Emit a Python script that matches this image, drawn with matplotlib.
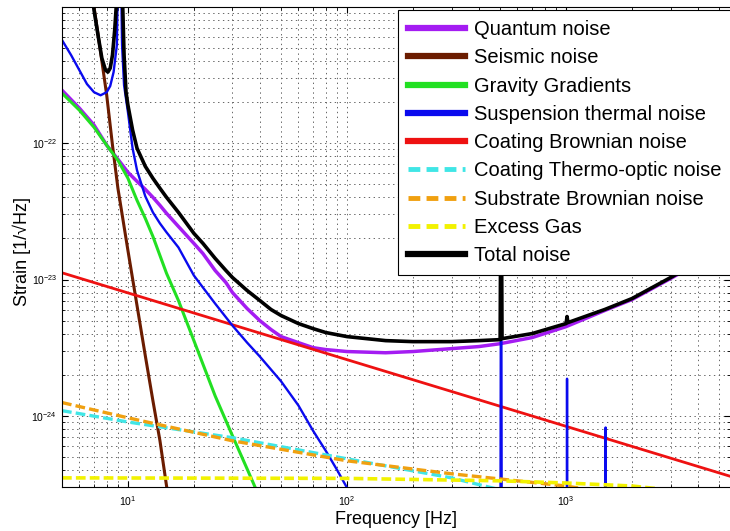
import matplotlib.pyplot as plt
from matplotlib.lines import Line2D

plt.rcParams['font.family'] = ['Liberation Sans', 'DejaVu Sans']
plt.rcParams['mathtext.fontset'] = 'custom'
plt.rcParams['mathtext.rm'] = 'Liberation Sans'
plt.rcParams['lines.scale_dashes'] = False

# quantum noise
q_f = [5, 6, 7, 8, 9, 10, 11, 12, 13, 14, 15, 17, 20, 22, 25, 28, 30, 35, 40, 45, 50, 60, 70, 80,
       100, 150, 200, 300, 400, 500, 700, 1000, 1500, 2000, 3000, 5600]
q_h = [2.45e-22, 1.81e-22, 1.36e-22, 9.67e-23, 7.63e-23, 6.12e-23, 5.25e-23, 4.59e-23, 4.01e-23,
       3.50e-23, 3.06e-23, 2.45e-23, 1.84e-23, 1.55e-23, 1.165e-23, 9.5e-24, 8.02e-24, 6.12e-24,
       4.99e-24, 4.29e-24, 3.81e-24, 3.44e-24, 3.16e-24, 3.06e-24, 2.96e-24, 2.90e-24, 2.96e-24,
       3.11e-24, 3.22e-24, 3.38e-24, 3.75e-24, 4.51e-24, 5.92e-24, 7.13e-24, 1.017e-23, 1.81e-23]

# seismic noise
s_f = [6, 7, 7.5, 8, 8.5, 9, 9.5, 10, 11, 12, 13, 14, 15, 16]
s_h = [5e-21, 1.0e-21, 4.67e-22, 2.25e-22, 9.67e-23, 4.67e-23, 2.72e-23, 1.63e-23, 6.44e-24,
       2.76e-24, 1.29e-24, 6.55e-25, 3.06e-25, 1.7e-25]

# gravity gradients
g_f = [5, 6, 7, 8, 9, 10, 11, 12, 13, 15, 17, 20, 25, 30, 35, 40]
g_h = [2.33e-22, 1.75e-22, 1.31e-22, 9.67e-23, 7.5e-23, 5.53e-23, 3.81e-23, 2.81e-23, 2.07e-23,
       1.11e-23, 7.01e-24, 3.56e-24, 1.40e-24, 7.13e-25, 4.07e-25, 2.49e-25]

# suspension thermal noise (with violin modes)
sus_f = [5, 5.5, 6, 6.5, 7, 7.5, 8, 8.3, 8.6, 8.9, 9.15, 9.4, 9.6, 10, 10.5, 11, 12, 13, 14, 15, 17,
         20, 22, 25, 30, 35, 40, 50, 60, 70, 80, 90, 100, 110,
         500, 505, 510, 1005, 1010, 1015, 1510, 1515, 1520, 3000]
sus_h = [5.72e-22, 4.44e-22, 3.44e-22, 2.72e-22, 2.37e-22, 2.25e-22, 2.37e-22, 2.63e-22, 3.33e-22,
         5.26e-22, 1e-20, 5.26e-22, 2.67e-22, 1.69e-22, 9.19e-23, 6.33e-23, 4.08e-23, 3.11e-23,
         2.58e-23, 2.22e-23, 1.72e-23, 1.07e-23, 8.73e-24, 6.66e-24, 4.59e-24, 3.44e-24, 2.72e-24,
         1.79e-24, 1.19e-24, 7.76e-25, 5.53e-25, 4.01e-25, 2.96e-25, 2.18e-25,
         5e-27, 1e-22, 5e-27, 1e-27, 1.87e-24, 1e-27, 5e-28, 8.2e-25, 5e-28, 1e-28]

# coating Brownian noise
r_f = [5, 100, 5600]
r_h = [1.12e-23, 2.58e-24, 3.6e-25]

# coating thermo-optic noise
c_f = [5, 10, 30, 100, 300, 500, 700]
c_h = [1.09e-24, 9.0e-25, 6.9e-25, 4.83e-25, 3.5e-25, 2.86e-25, 2.4e-25]

# substrate Brownian noise
o_f = [5, 10, 30, 100, 300, 1000, 1300]
o_h = [1.25e-24, 9.66e-25, 6.55e-25, 4.67e-25, 3.75e-25, 3.05e-25, 2.85e-25]

# excess gas
e_f = [5, 100, 500, 1000, 2000, 2700]
e_h = [3.5e-25, 3.47e-25, 3.33e-25, 3.21e-25, 3.05e-25, 2.9e-25]

# total noise
t_f = [6.9, 7, 7.3, 7.6, 7.9, 8.1, 8.3, 8.5, 8.7, 8.85, 9.15, 9.45, 9.6, 9.8, 10, 10.5, 11, 12, 13,
       14, 15, 17, 20, 22, 25, 28, 30, 35, 40, 45, 50, 60, 70, 80, 100, 150, 200, 300, 400, 500, 505,
       510, 700, 1000, 1010, 1020, 1500, 2000, 3000, 5600]
t_h = [1.2e-21, 9.5e-22, 6.22e-22, 4.22e-22, 3.44e-22, 3.33e-22, 3.56e-22, 4.44e-22, 6.77e-22,
       1.03e-21, 1e-20, 1.12e-21, 4.44e-22, 2.37e-22, 1.90e-22, 1.25e-22, 9.19e-23, 6.77e-23,
       5.53e-23, 4.67e-23, 4.01e-23, 3.11e-23, 2.18e-23, 1.84e-23, 1.43e-23, 1.165e-23, 1.034e-23,
       8.3e-24, 7.01e-24, 6.02e-24, 5.44e-24, 4.75e-24, 4.36e-24, 4.08e-24, 3.81e-24, 3.56e-24,
       3.50e-24, 3.50e-24, 3.56e-24, 3.62e-24, 1e-22, 3.68e-24, 4.01e-24, 4.75e-24, 5.35e-24,
       4.83e-24, 6.02e-24, 7.25e-24, 1.034e-23, 1.84e-23]

labels = ['Quantum noise', 'Seismic noise', 'Gravity Gradients', 'Suspension thermal noise',
          'Coating Brownian noise', 'Coating Thermo-optic noise', 'Substrate Brownian noise',
          'Excess Gas', 'Total noise']
colors = ['#a41cf2', '#6b1c00', '#22e022', '#0a0aee', '#ee1111', '#40e6e6', '#f0a010', '#f2f200', 'black']

fig = plt.figure(figsize=(7.3, 5.31), dpi=100)
ax = fig.add_axes([62/730, 44/531, 668/730, 480/531])

dash = (7, 3)
ax.plot(q_f, q_h, color=colors[0], lw=2.5)
ax.plot(s_f, s_h, color=colors[1], lw=2.2)
ax.plot(g_f, g_h, color=colors[2], lw=2.2)
ax.plot(r_f, r_h, color=colors[4], lw=2.0)
ax.plot(sus_f, sus_h, color=colors[3], lw=1.7)
ax.plot(c_f, c_h, color=colors[5], lw=2.4, dashes=dash)
ax.plot(o_f, o_h, color=colors[6], lw=2.4, dashes=dash)
ax.plot(e_f, e_h, color=colors[7], lw=2.6, dashes=dash)
ax.plot(t_f, t_h, color=colors[8], lw=2.6)

ax.set_xscale('log')
ax.set_yscale('log')
ax.set_xlim(5, 5600)
ax.set_ylim(3e-25, 1e-21)
ax.set_yticks([1e-24, 1e-23, 1e-22])
ax.grid(True, which='both', linestyle=(0, (1, 2.5)), color='0.4', lw=0.7)
ax.tick_params(which='both', direction='in', top=True, right=True)
ax.tick_params(which='major', length=4, labelsize=7.5)
ax.tick_params(which='minor', length=2.5)
ax.tick_params(axis='x', pad=5)
ax.spines['right'].set_visible(False)

ax.set_xlabel('Frequency [Hz]', fontsize=13)
ax.set_ylabel('Strain [1/\u221aHz]', fontsize=13)
ax.xaxis.set_label_coords(0.5, -0.05)
ax.yaxis.set_label_coords(-0.047, 0.49)

handles = []
for i, lab in enumerate(labels):
    if i in (5, 6, 7):
        handles.append(Line2D([], [], color=colors[i], lw=3.5, dashes=(8.5, 4.5)))
    else:
        handles.append(Line2D([], [], color=colors[i], lw=4.5))
leg = ax.legend(handles, labels, loc='upper left', bbox_to_anchor=(398/730, 1 - 10/531),
                bbox_transform=fig.transFigure, fontsize=14.5, frameon=True, fancybox=False,
                framealpha=1, edgecolor='black', handlelength=2.85, handletextpad=0.4,
                labelspacing=0.46, borderpad=0.5, borderaxespad=0)
leg.get_frame().set_linewidth(0.8)

plt.savefig('out.png', dpi=100)
